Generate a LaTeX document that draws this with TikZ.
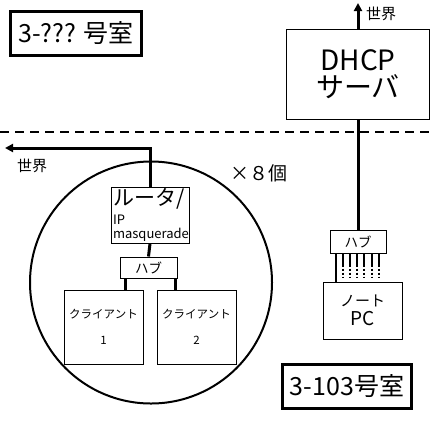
\documentclass[tikz,border=0pt]{standalone}
\usepackage{fontspec}
\setmainfont{Noto Sans CJK JP}
\usetikzlibrary{arrows.meta}
\newcommand{\fsz}[1]{\fontsize{#1}{#1}\selectfont}

\begin{document}
\begin{tikzpicture}[x=1pt,y=-1pt,
    wire/.style={line width=3pt},
    uplink/.style={wire, -{Triangle[length=8pt,width=8pt]}}]

      \useasboundingbox (0,0) rectangle (433,424);

      \draw[line width=2pt, dash pattern=on 9pt off 6pt] (0,132) -- (433,132);

      \node[circle, draw, line width=2pt, minimum size=242pt] (group) at (151,282.5) {};

      \begin{scope}[every node/.style={draw, line width=3pt, fill=white, inner sep=0pt, font=\fsz{25}}]
        \node[minimum width=131pt, minimum height=44pt] (room1) at (76,33.5) {3-??? 号室};
        \node[minimum width=129pt, minimum height=44pt] (room2) at (347,386.5) {3-103号室};
      \end{scope}

      \begin{scope}[every node/.style={draw, line width=1pt, fill=white, inner sep=0pt, align=center}]
        \node[minimum width=143pt, minimum height=90pt, font=\fsz{28}] (dhcp) at (358,74) {DHCP\\[-1pt]サーバ};
        \node[minimum width=56pt, minimum height=23pt, font=\fsz{13.5}] (rhub) at (358,241.5) {ハブ};
        \node[minimum width=79pt, minimum height=57pt] (note) at (362.5,310.5) {{\fsz{15}ノート}\\[3pt]{\fsz{19}PC}};
        \node[minimum width=78pt, minimum height=56pt, align=left, text width=74pt] (router) at (150,215)
          {{\fsz{21}ルータ/}\\[4pt]{\fsz{13}IP}\\[2pt]{\fsz{13}masquerade}};
        \node[minimum width=57pt, minimum height=21pt, font=\fsz{13.5}] (lhub) at (148.5,267.5) {ハブ};
        \node[minimum width=79pt, minimum height=74pt, font=\fsz{11.5}] (c1) at (103.5,327) {クライアント\\[14pt]1};
        \node[minimum width=79pt, minimum height=74pt, font=\fsz{11.5}] (c2) at (196.5,327) {クライアント\\[14pt]2};
      \end{scope}

      \begin{scope}[every node/.style={font=\fsz{15}, inner sep=0pt}]
        \coordinate (wtop) at (358,3);
        \coordinate (wleft) at (5,148);
        \node[anchor=west] (wtoplabel) at (366,14) {世界};
        \node (wleftlabel) at (32,166) {世界};
        \node[font=\fsz{19}] (times) at (259,173) {×８個};
      \end{scope}

      \draw[uplink] (dhcp.north) -- (wtop);
      \draw[uplink] (router.north) |- (wleft);
      \draw[wire] (dhcp.south) -- (rhub.north);
      \draw[wire] (router.south) -- (lhub.north);
      \draw[wire] ([xshift=-23.5pt]lhub.south) -- ([xshift=-23.5pt]lhub.south |- c1.north);
      \draw[wire] ([xshift=26.5pt]lhub.south) -- ([xshift=26.5pt]lhub.south |- c2.north);
      \draw[line width=2pt] ([xshift=-22pt]rhub.south) -- ([xshift=-22pt]rhub.south |- note.north);
      \foreach \dx in {-15,-8,-1,6,14,21} {
        \draw[line width=2pt] ([xshift=\dx pt]rhub.south) -- ++(0,13);
        \draw[line width=2pt, dash pattern=on 2pt off 2pt] ([xshift=\dx pt,yshift=-15pt]rhub.south) -- ++(0,9);
      }

    \end{tikzpicture}
\end{document}
